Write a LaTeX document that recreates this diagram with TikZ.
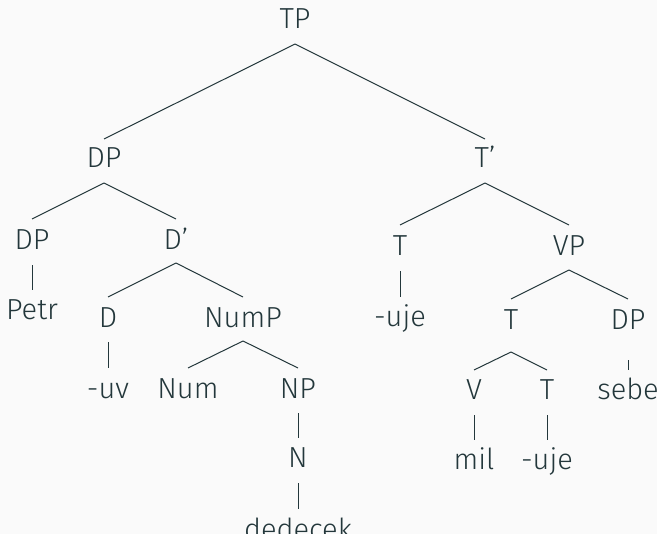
\documentclass[tikz,border=0pt]{standalone}
\usepackage{fontspec}
\setmainfont{Fira Sans}[UprightFont=* Light]
\definecolor{fg}{HTML}{23373B}
\definecolor{bg}{HTML}{FAFAFA}
\newcommand\br[4]{\draw[edge] ([yshift=-#3*0.5pt]#1.base) -- ([yshift=#4*0.5pt]#2.base);}
\begin{document}
\begin{tikzpicture}[x=0.5pt,y=-0.5pt,
  lab/.style={anchor=base,inner sep=0pt,text=fg,font=\fontsize{14.5}{17}\selectfont},
  edge/.style={draw=fg,line width=0.5pt}]
\fill[bg] (0,0) rectangle (657,534);
\useasboundingbox (0,0) rectangle (657,534);
\node[lab] (tp) at (295,29) {TP};
\node[lab] (dp1) at (104,168) {DP};
\node[lab] (tb) at (485,168) {T'};
\node[lab] (dp2) at (32,249) {DP};
\node[lab] (db) at (176,249) {D'};
\node[lab] (petr) at (32,319) {Petr};
\node[lab] (d) at (108,327) {D};
\node[lab] (nump) at (243,327) {NumP};
\node[lab] (uv) at (108,398) {-uv};
\node[lab] (num) at (188,398) {Num};
\node[lab] (np) at (298,398) {NP};
\node[lab] (n) at (298,467) {N};
\node[lab] (ded) at (298,539) {dedecek};
\node[lab] (t1) at (400,255) {T};
\node[lab] (vp) at (569,255) {VP};
\node[lab] (uje1) at (400,326) {-uje};
\node[lab] (t2) at (511,329) {T};
\node[lab] (dp3) at (628,329) {DP};
\node[lab] (v) at (474,399) {V};
\node[lab] (t3) at (547,399) {T};
\node[lab] (sebe) at (628,399) {sebe};
\node[lab] (mil) at (474,469) {mil};
\node[lab] (uje2) at (547,469) {-uje};
\br{tp}{dp1}{15}{29}
\br{tp}{tb}{15}{29}
\br{dp1}{dp2}{15}{30}
\br{dp1}{db}{15}{30}
\br{dp2}{petr}{16}{29}
\br{db}{d}{14}{30}
\br{db}{nump}{14}{30}
\br{d}{uv}{15}{30}
\br{nump}{num}{14}{30}
\br{nump}{np}{14}{30}
\br{np}{n}{15}{29}
\br{n}{ded}{16}{30}
\br{tb}{t1}{15}{30}
\br{tb}{vp}{15}{30}
\br{t1}{uje1}{16}{29}
\br{vp}{t2}{15}{30}
\br{vp}{dp3}{15}{30}
\br{t2}{v}{23}{29}
\br{t2}{t3}{23}{29}
\br{dp3}{sebe}{31}{29}
\br{v}{mil}{16}{29}
\br{t3}{uje2}{16}{29}
\end{tikzpicture}
\end{document}
